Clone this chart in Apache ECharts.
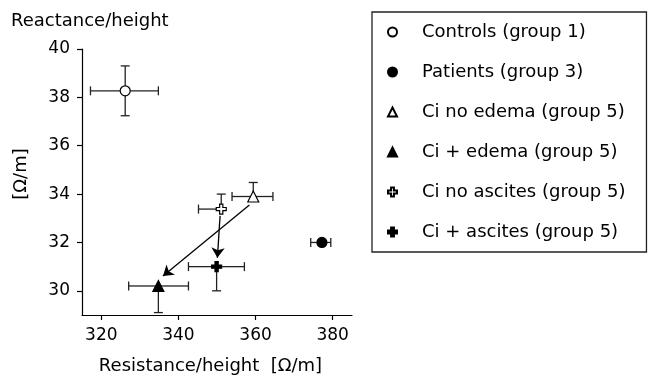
<!DOCTYPE html>
<html>
<head>
<meta charset="utf-8">
<script src="https://cdn.jsdelivr.net/npm/echarts@6/dist/echarts.min.js"></script>
<style>
html, body { margin: 0; padding: 0; background: #fff; }
#main { width: 652px; height: 380px; }
</style>
</head>
<body>
<div id="main"></div>
<script>
// groups and mean values
var groups = ['Controls (group 1)', 'Patients (group 3)', 'Ci no edema (group 5)', 'Ci + edema (group 5)', 'Ci no ascites (group 5)', 'Ci + ascites (group 5)'];
var resistance = [326.2, 377.2, 359.4, 334.8, 351.1, 349.9];
var reactance = [38.27, 32.0, 33.9, 30.2, 33.38, 31.0];
// error bar ends (null = half not drawn)
var resLow = [317.2, 374.3, 353.9, 327.1, 345.2, 342.6];
var resHigh = [334.8, 379.5, 364.5, 342.6, null, 357.1];
var reacLow = [37.24, null, null, 29.1, null, 30.0];
var reacHigh = [39.3, null, 34.48, null, 34.0, null];
// tick labels
var xTicks = [320, 340, 360, 380];
var yTicks = [30, 32, 34, 36, 38, 40];
// arrows: no edema -> edema, no ascites -> ascites
var arrowFrom = [[358.4, 33.55], [350.8, 33.1]];
var arrowTo = [[336.0, 30.61], [350.1, 31.37]];

var FONT = 'DejaVu Sans';
var crossPath = 'path://M3.4,0H6.6V3.4H10V6.6H6.6V10H3.4V6.6H0V3.4H3.4Z';
var symbols = ['circle', 'circle', 'triangle', 'triangle', crossPath, crossPath];
var sizes = [10, 10, 11, 11, 10, 10];
var filled = [false, true, false, true, false, true];

var dom = document.getElementById('main');
var myChart = echarts.init(dom);

function errorBars(params, api) {
	var i = api.value(2);
	var c = api.coord([api.value(0), api.value(1)]);
	var cap = 4.5;
	var children = [];
	function seg(x1, y1, x2, y2) {
		children.push({
			type: 'line',
			shape: { x1: x1, y1: y1, x2: x2, y2: y2 },
			style: { stroke: '#222', lineWidth: 1.3 }
		});
	}
	if (resLow[i] != null) {
		var p = api.coord([resLow[i], reactance[i]]);
		seg(p[0], c[1], c[0], c[1]);
		seg(p[0], c[1] - cap, p[0], c[1] + cap);
	}
	if (resHigh[i] != null) {
		var p = api.coord([resHigh[i], reactance[i]]);
		seg(c[0], c[1], p[0], c[1]);
		seg(p[0], c[1] - cap, p[0], c[1] + cap);
	}
	if (reacLow[i] != null) {
		var p = api.coord([resistance[i], reacLow[i]]);
		seg(c[0], c[1], c[0], p[1]);
		seg(c[0] - cap, p[1], c[0] + cap, p[1]);
	}
	if (reacHigh[i] != null) {
		var p = api.coord([resistance[i], reacHigh[i]]);
		seg(c[0], p[1], c[0], c[1]);
		seg(c[0] - cap, p[1], c[0] + cap, p[1]);
	}
	return { type: 'group', children: children };
}

var series = [{
	type: 'custom',
	renderItem: errorBars,
	data: groups.map(function (g, i) { return [resistance[i], reactance[i], i]; }),
	encode: { x: 0, y: 1 },
	silent: true,
	z: 2
}, {
	type: 'lines',
	coordinateSystem: 'cartesian2d',
	data: arrowFrom.map(function (f, i) { return { coords: [f, arrowTo[i]] }; }),
	symbol: ['none', 'arrow'],
	symbolSize: 10,
	lineStyle: { color: '#000', width: 1.3, opacity: 1 },
	silent: true,
	z: 3
}];

groups.forEach(function (g, i) {
	series.push({
		type: 'scatter',
		name: g,
		data: [[resistance[i], reactance[i]]],
		symbol: symbols[i],
		symbolSize: sizes[i],
		itemStyle: {
			color: filled[i] ? '#000' : '#fff',
			borderColor: '#000',
			borderWidth: 1.2,
			opacity: 1
		},
		z: 4
	});
});

option = {
	animation: false,
	backgroundColor: '#fff',
	textStyle: { fontFamily: FONT, color: '#000' },
	title: {
		text: 'Reactance/height',
		left: 6,
		top: 7,
		textStyle: { fontFamily: FONT, fontSize: 18, fontWeight: 'normal', color: '#000' }
	},
	legend: {
		data: groups,
		orient: 'vertical',
		left: 372,
		top: 12,
		padding: [11, 21, 11, 15],
		itemGap: 22,
		itemWidth: 9,
		itemHeight: 9,
		borderColor: '#222',
		borderWidth: 1.3,
		textStyle: { fontFamily: FONT, fontSize: 18, color: '#000', padding: [0, 0, 0, 20] }
	},
	grid: {
		left: 82,
		right: 300,
		top: 49,
		bottom: 61
	},
	xAxis: {
		type: 'value',
		min: 315,
		max: 385,
		name: 'Resistance/height  [\u03A9/m]',
		nameLocation: 'middle',
		nameGap: 42,
		nameTextStyle: { fontFamily: FONT, fontSize: 18, color: '#000', padding: [0, 13, 0, 0] },
		splitLine: { show: false },
		axisLine: { onZero: false, lineStyle: { color: '#000', width: 1.2 } },
		axisTick: { show: true, length: 5, customValues: xTicks, lineStyle: { color: '#000', width: 1.2 } },
		axisLabel: { customValues: xTicks, margin: 12, fontFamily: FONT, fontSize: 17, color: '#000' }
	},
	yAxis: {
		type: 'value',
		min: 29,
		max: 40,
		name: '[\u03A9/m]',
		nameLocation: 'middle',
		nameGap: 52,
		nameTextStyle: { fontFamily: FONT, fontSize: 18, color: '#000', padding: [0, 0, 0, 16] },
		splitLine: { show: false },
		axisLine: { show: true, onZero: false, lineStyle: { color: '#000', width: 1.2 } },
		axisTick: { show: true, length: 5, customValues: yTicks, lineStyle: { color: '#000', width: 1.2 } },
		axisLabel: { customValues: yTicks, margin: 12, fontFamily: FONT, fontSize: 17, color: '#000' }
	},
	series: series
};

if (option && typeof option === 'object') {
	myChart.setOption(option, true);
}
</script>
</body>
</html>
